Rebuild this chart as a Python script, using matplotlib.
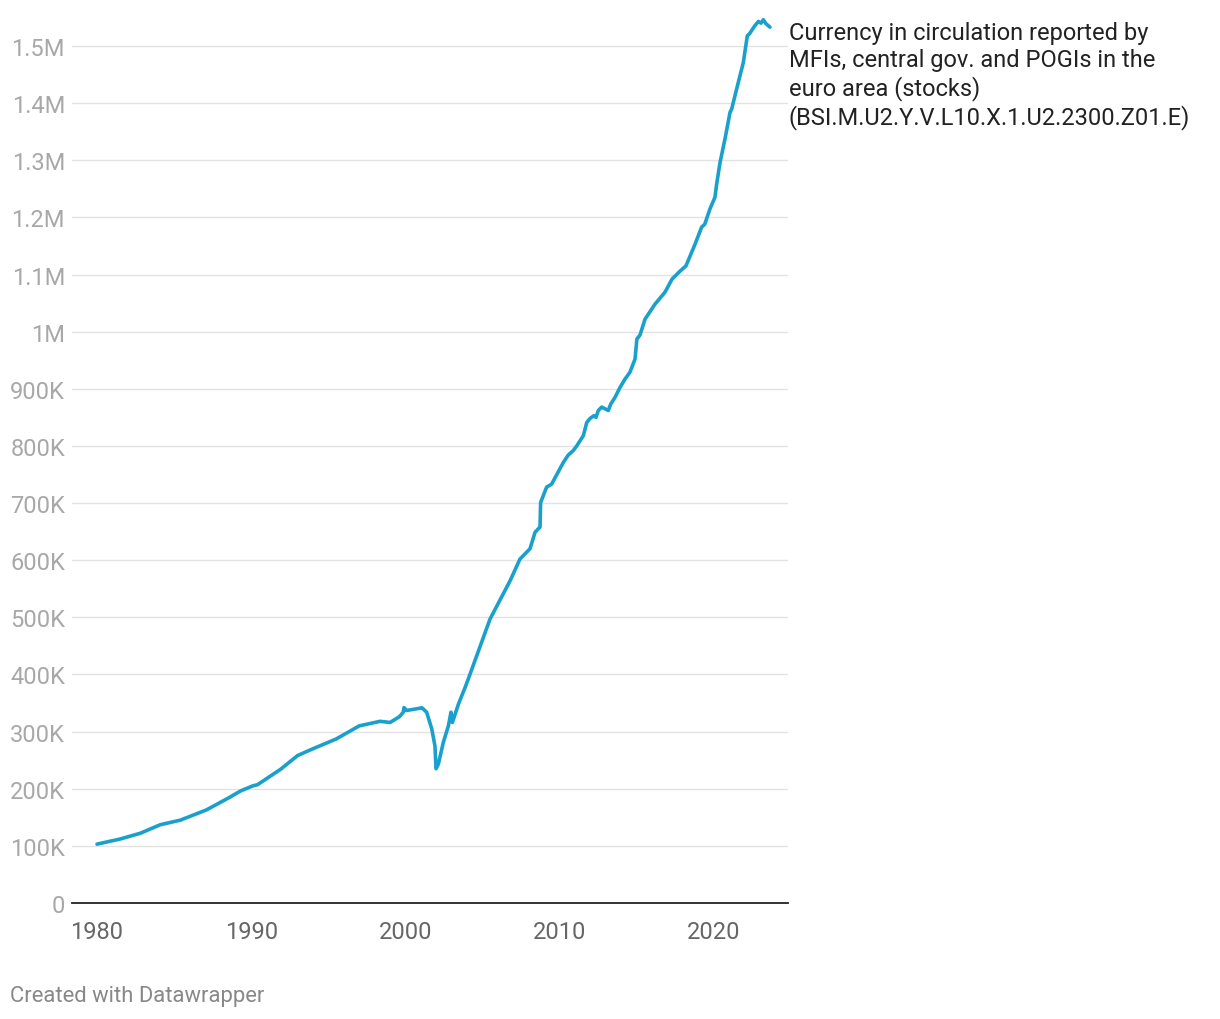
import matplotlib
matplotlib.use("Agg")
import matplotlib.pyplot as plt
from matplotlib.ticker import FixedLocator

plt.rcParams['font.family'] = ['Roboto', 'DejaVu Sans']

years = [1980.0, 1981.5, 1982.8, 1984.1, 1985.4, 1987.1, 1988.6, 1989.3, 1990.1, 1990.4,
         1991.9, 1993.0, 1994.0, 1995.5, 1997.0, 1998.35, 1999.0, 1999.6, 1999.86, 1999.9,
         2000.08, 2000.94, 2001.05, 2001.37, 2001.7, 2001.91, 2001.98, 2002.13, 2002.45,
         2002.78, 2002.95, 2003.04, 2003.43, 2003.86, 2004.07, 2005.48, 2006.78, 2007.42,
         2008.07, 2008.4, 2008.72, 2008.76, 2009.15, 2009.47, 2010.23, 2010.55, 2010.88,
         2011.1, 2011.53, 2011.75, 2011.96, 2012.22, 2012.35, 2012.5, 2012.72, 2013.15,
         2013.3, 2013.58, 2013.9, 2014.23, 2014.55, 2014.88, 2015.0, 2015.2, 2015.53,
         2016.17, 2016.82, 2017.28, 2017.8, 2018.18, 2018.77, 2019.2, 2019.4, 2019.74,
         2020.06, 2020.17, 2020.39, 2020.71, 2021.04, 2021.15, 2021.47, 2021.9, 2022.16,
         2022.29, 2022.66, 2022.88, 2023.05, 2023.2, 2023.37, 2023.63]
values = [103, 112, 122, 137, 145, 163, 185, 196, 205, 207,
          234, 258, 270, 287, 310, 318, 316, 326, 334, 342,
          337, 341, 342, 334, 305, 275, 235, 243, 281,
          310, 334, 316, 348, 377, 392, 497, 564, 602,
          620, 649, 658, 701, 728, 733, 771, 784, 792,
          800, 818, 841, 848, 853, 850, 862, 868, 862,
          873, 885, 902, 917, 929, 952, 987, 994, 1022,
          1048, 1069, 1092, 1106, 1115, 1153, 1183, 1188, 1215,
          1235, 1258, 1296, 1337, 1384, 1390, 1425, 1471, 1518,
          1521, 1536, 1543, 1540, 1546, 1539, 1533]

y_ticks = [0, 100, 200, 300, 400, 500, 600, 700, 800, 900, 1000, 1100, 1200, 1300, 1400, 1500]
y_labels = ['0', '100K', '200K', '300K', '400K', '500K', '600K', '700K', '800K', '900K',
            '1M', '1.1M', '1.2M', '1.3M', '1.4M', '1.5M']
x_ticks = [1980, 1990, 2000, 2010, 2020]
x_labels = ['1980', '1990', '2000', '2010', '2020']

series_label = ("Currency in circulation reported by\nMFIs, central gov. and POGIs in the\n"
                "euro area (stocks)\n(BSI.M.U2.Y.V.L10.X.1.U2.2300.Z01.E)")

W, H = 1220, 1020
fig = plt.figure(figsize=(W / 100, H / 100), dpi=100)
ax_l, ax_r, ax_t, ax_b = 72, 788, 15, 904
ax = fig.add_axes([ax_l / W, 1 - ax_b / H, (ax_r - ax_l) / W, (ax_b - ax_t) / H])

px_per_year = 617 / 40.0
x0 = 1980 - (97 - ax_l) / px_per_year
x1 = 1980 + (ax_r - 97) / px_per_year
px_per_k = 857 / 1500.0
ax.set_xlim(x0, x1)
ax.set_ylim(0, (ax_b - ax_t) / px_per_k)

for yt in y_ticks[1:]:
    ax.axhline(yt, color='#e3e3e3', lw=1.0, zorder=1)

ax.plot(years, values, color='#1aa0cc', lw=2.6, solid_joinstyle='round',
        solid_capstyle='round', zorder=3, clip_on=False)

for s in ['top', 'right', 'left']:
    ax.spines[s].set_visible(False)
ax.spines['bottom'].set_color('#222222')
ax.spines['bottom'].set_linewidth(1.3)

ax.yaxis.set_major_locator(FixedLocator(y_ticks))
ax.set_yticklabels(y_labels)
ax.xaxis.set_major_locator(FixedLocator(x_ticks))
ax.set_xticklabels(x_labels)
ax.tick_params(axis='y', length=0, pad=5, labelsize=17, labelcolor='#a8a8a8')
ax.tick_params(axis='x', length=0, pad=12, labelsize=17, labelcolor='#666666')

fig.text(789 / W, 1 - 22 / H, series_label, ha='left', va='top', fontsize=17,
         color='#222222', linespacing=1.22)
fig.text(10 / W, 1 - 997 / H, 'Created with Datawrapper', ha='left', va='center',
         fontsize=15.8, color='#888888')

fig.savefig('out.png', dpi=100)
